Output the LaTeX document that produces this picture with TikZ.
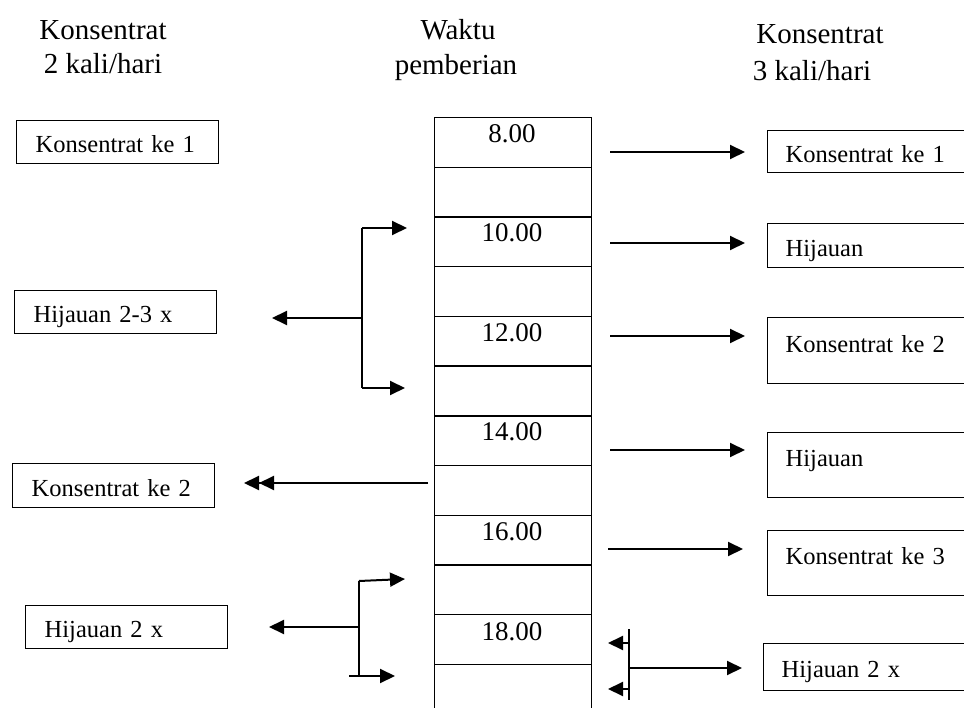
\documentclass[tikz,border=0pt]{standalone}
\usepackage{fontspec}
\setmainfont{Liberation Serif}
\usetikzlibrary{arrows.meta}
\begin{document}
\begin{tikzpicture}[x=1pt,y=-1pt,
  title/.style={anchor=base,inner sep=0pt,font=\fontsize{29}{34}\selectfont},
  num/.style={anchor=base,inner sep=0pt,font=\fontsize{27}{32}\selectfont},
  box/.style={draw,line width=1.4pt,anchor=north west,inner ysep=0pt,
    font=\fontsize{24.5}{29}\selectfont,text height=25pt,text depth=4pt,align=left},
  lbox/.style={box,inner xsep=19pt,text width=164pt},
  rbox/.style={box,inner xsep=18pt,text width=200pt},
  cell/.style={draw,line width=1.4pt,anchor=north west,inner sep=0pt,
    minimum width=157pt,minimum height=49.7pt},
  arr/.style={line width=2pt,-{Triangle[length=15pt,width=14pt]}},
  ln/.style={line width=2pt},
  darr/.style={line width=2pt,-{Triangle[length=15pt,width=14pt]Triangle[length=15pt,width=14pt,sep=-4pt]}}]
\useasboundingbox (0,0) rectangle (964,708);
\clip (0,0) rectangle (964,708);

% titles
\node[title] (t1a) at (103,40) {Konsentrat};
\node[title] (t1b) at (103,74) {2 kali/hari};
\node[title] (t2a) at (458,40) {Waktu};
\node[title] (t2b) at (456,75) {pemberian};
\node[title] (t3a) at (820,44) {Konsentrat};
\node[title] (t3b) at (812,81) {3 kali/hari};

% column of time cells
\foreach \i in {0,...,11}
  \node[cell] (c\i) at (434,{117+49.7*\i}) {};
\node[num] (n8)  at (512,143) {8.00};
\node[num] (n10) at (512,242) {10.00};
\node[num] (n12) at (512,342) {12.00};
\node[num] (n14) at (512,441) {14.00};
\node[num] (n16) at (512,540) {16.00};
\node[num] (n18) at (512,640) {18.00};

% left boxes
\node[lbox,minimum height=43pt] (l1) at (16,120) {Konsentrat ke 1};
\node[lbox,minimum height=43pt] (l2) at (14,290) {Hijauan 2-3 x};
\node[lbox,minimum height=44pt] (l3) at (12,463) {Konsentrat ke 2};
\node[lbox,minimum height=43pt] (l4) at (25,605) {Hijauan 2 x};

% right boxes
\node[rbox,minimum height=42pt] (r1) at (767,130) {Konsentrat ke 1};
\node[rbox,minimum height=44pt] (r2) at (767,223) {Hijauan};
\node[rbox,minimum height=66pt,text height=16pt,text depth=13pt] (r3) at (767,317) {Konsentrat ke 2};
\node[rbox,minimum height=65pt,text height=16pt,text depth=13pt] (r4) at (767,432) {Hijauan};
\node[rbox,minimum height=65pt,text height=16pt,text depth=13pt] (r5) at (767,530) {Konsentrat ke 3};
\node[rbox,minimum height=47pt] (r6) at (763,643) {Hijauan 2 x};

% right arrows
\coordinate (a1s) at (610,152); \coordinate (a1e) at (745,152);
\coordinate (a2s) at (610,243); \coordinate (a2e) at (745,243);
\coordinate (a3s) at (610,336); \coordinate (a3e) at (745,336);
\coordinate (a4s) at (610,450); \coordinate (a4e) at (745,450);
\coordinate (a5s) at (608,549); \coordinate (a5e) at (743,549);
\draw[arr] (a1s) -- (a1e);
\draw[arr] (a2s) -- (a2e);
\draw[arr] (a3s) -- (a3e);
\draw[arr] (a4s) -- (a4e);
\draw[arr] (a5s) -- (a5e);

% left bracket (Hijauan 2-3 x)
\coordinate (b1t) at (362,228); \coordinate (b1b) at (362,388);
\coordinate (b1m) at (362,318);
\coordinate (b1te) at (407,228); \coordinate (b1be) at (405,388);
\coordinate (b1me) at (272,318);
\draw[ln] (b1t) -- (b1b);
\draw[arr] (b1t) -- (b1te);
\draw[arr] (b1b) -- (b1be);
\draw[arr] (b1m) -- (b1me);

% double arrow (Konsentrat ke 2)
\coordinate (d1s) at (428,483); \coordinate (d1e) at (248,483);
\draw[darr] (d1s) -- (d1e);

% bottom-left bracket (Hijauan 2 x)
\coordinate (b2t) at (359,581); \coordinate (b2b) at (359,676);
\coordinate (b2m) at (359,627);
\coordinate (b2te) at (405,579); \coordinate (b2bs) at (349,676);
\coordinate (b2be) at (395,676); \coordinate (b2me) at (269,627);
\draw[ln] (b2t) -- (b2b);
\draw[arr] (b2t) -- (b2te);
\draw[arr] (b2bs) -- (b2be);
\draw[arr] (b2m) -- (b2me);

% bottom-right bracket
\coordinate (b3t) at (629,629); \coordinate (b3b) at (629,700);
\coordinate (b3u) at (629,643); \coordinate (b3ue) at (608,643);
\coordinate (b3d) at (629,689); \coordinate (b3de) at (608,689);
\coordinate (b3m) at (629,668); \coordinate (b3me) at (742,668);
\draw[ln] (b3t) -- (b3b);
\draw[arr] (b3u) -- (b3ue);
\draw[arr] (b3d) -- (b3de);
\draw[arr] (b3m) -- (b3me);
\end{tikzpicture}
\end{document}
